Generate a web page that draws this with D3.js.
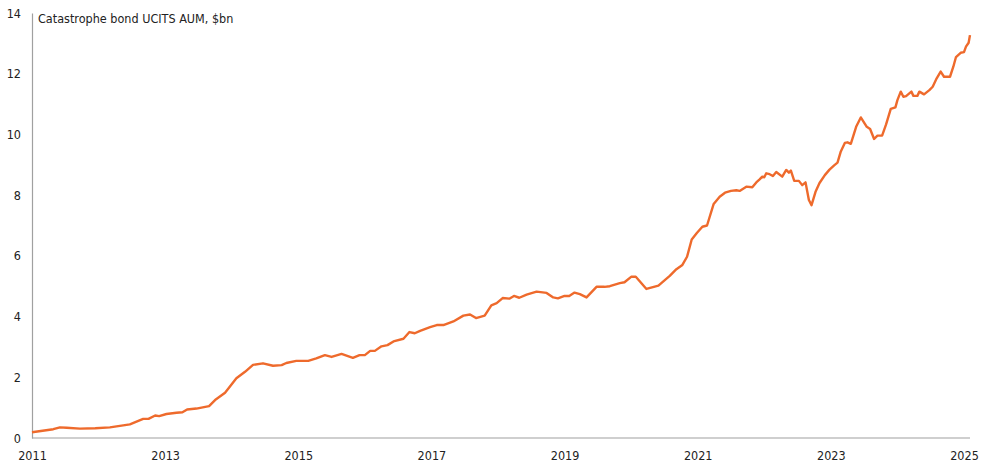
<!DOCTYPE html>
<html>
<head>
<meta charset="utf-8">
<script src="https://cdn.jsdelivr.net/npm/d3@7"></script>
<style>
html,body{margin:0;padding:0;background:#fff;}
svg text{font-family:Tahoma,"DejaVu Sans Condensed","DejaVu Sans",sans-serif;font-size:12.5px;fill:#222;}
</style>
</head>
<body>
<svg id="chart" width="982" height="469"></svg>
<script>
const title = "Catastrophe bond UCITS AUM, $bn";
const xTickYears = [2011, 2013, 2015, 2017, 2019, 2021, 2023, 2025];
const yTicks = [0, 2, 4, 6, 8, 10, 12, 14];
// decimal-year dates
const dates = [
2011.00,2011.32,2011.42,2011.52,2011.72,2011.95,2012.17,2012.47,2012.67,2012.75,
2012.85,2012.91,2013.02,2013.17,2013.26,2013.33,2013.47,2013.66,2013.75,2013.90,
2014.07,2014.20,2014.32,2014.47,2014.62,2014.75,2014.82,2014.97,2015.15,2015.27,
2015.40,2015.50,2015.65,2015.82,2015.92,2016.00,2016.08,2016.15,2016.25,2016.34,
2016.43,2016.58,2016.67,2016.75,2016.83,2016.98,2017.08,2017.18,2017.33,2017.48,
2017.58,2017.67,2017.80,2017.90,2017.98,2018.07,2018.17,2018.24,2018.32,2018.43,
2018.58,2018.73,2018.83,2018.90,2019.00,2019.07,2019.15,2019.23,2019.33,2019.48,
2019.60,2019.68,2019.83,2019.90,2020.00,2020.07,2020.23,2020.41,2020.58,2020.68,
2020.77,2020.84,2020.91,2020.99,2021.07,2021.14,2021.24,2021.33,2021.41,2021.50,
2021.58,2021.63,2021.73,2021.82,2021.88,2021.93,2021.97,2022.00,2022.03,2022.08,
2022.13,2022.18,2022.27,2022.33,2022.37,2022.40,2022.45,2022.52,2022.57,2022.62,
2022.67,2022.71,2022.77,2022.83,2022.91,2022.98,2023.05,2023.10,2023.15,2023.21,
2023.25,2023.30,2023.38,2023.45,2023.54,2023.59,2023.65,2023.70,2023.77,2023.83,
2023.90,2023.97,2024.00,2024.05,2024.09,2024.13,2024.21,2024.24,2024.30,2024.33,
2024.40,2024.48,2024.53,2024.59,2024.65,2024.70,2024.79,2024.84,2024.88,2024.95,
2025.00,2025.03,2025.07,2025.09
];
const aum = [
0.19,0.29,0.35,0.34,0.31,0.32,0.35,0.45,0.63,0.63,
0.74,0.72,0.79,0.83,0.85,0.94,0.97,1.05,1.25,1.49,
1.97,2.18,2.41,2.46,2.38,2.40,2.47,2.54,2.54,2.62,
2.73,2.67,2.77,2.64,2.73,2.73,2.87,2.87,3.02,3.06,
3.18,3.27,3.49,3.45,3.53,3.65,3.72,3.72,3.84,4.03,
4.07,3.95,4.03,4.37,4.44,4.61,4.59,4.68,4.62,4.72,
4.82,4.78,4.63,4.60,4.68,4.68,4.79,4.74,4.63,4.98,
4.98,5.00,5.10,5.13,5.31,5.31,4.91,5.02,5.34,5.56,
5.70,5.97,6.54,6.76,6.96,7.00,7.71,7.95,8.08,8.14,
8.16,8.14,8.28,8.26,8.42,8.52,8.61,8.59,8.72,8.69,
8.63,8.76,8.61,8.83,8.74,8.81,8.47,8.47,8.33,8.42,
7.84,7.67,8.11,8.40,8.66,8.84,8.98,9.07,9.44,9.72,
9.74,9.69,10.25,10.56,10.25,10.18,9.85,9.96,9.96,10.33,
10.84,10.89,11.13,11.41,11.24,11.26,11.41,11.27,11.27,11.41,
11.32,11.46,11.57,11.85,12.07,11.90,11.90,12.23,12.55,12.69,
12.71,12.89,13.02,13.27
];

const svg = d3.select("#chart");
const mLeft = 32, mRight = 970, mTop = 13, mBottom = 438;

const x = d3.scaleLinear().domain([2011, 2025]).range([mLeft, mLeft + 66.57 * 14]);
const y = d3.scaleLinear().domain([0, 14]).range([mBottom, mTop]);

// y axis
const yAxis = d3.axisLeft(y).tickValues(yTicks).tickSize(0).tickPadding(11).tickFormat(d3.format("d"));
const gy = svg.append("g").attr("transform", `translate(${mLeft},0)`).call(yAxis);
gy.select(".domain").attr("stroke", "#a0a0a0").attr("stroke-width", 1.2);
gy.selectAll("text").style("font-size", "12.5px");

// x axis
const xAxis = d3.axisBottom(x).tickValues(xTickYears).tickSize(0).tickPadding(13).tickFormat(d3.format("d"));
const gx = svg.append("g").attr("transform", `translate(0,${mBottom})`).call(xAxis);
gx.select(".domain").attr("d", `M${mLeft},0H${mRight}`).attr("stroke", "#a0a0a0").attr("stroke-width", 1.2);
gx.selectAll("text").style("font-size", "12.5px");

// title
svg.append("text").attr("x", mLeft + 6).attr("y", 23).text(title);

// line
const data = dates.map((d, i) => ({t: d, v: aum[i]}));
const line = d3.line().x(d => x(d.t)).y(d => y(d.v));
svg.append("path").datum(data)
  .attr("fill", "none")
  .attr("stroke", "#EE6A2C")
  .attr("stroke-width", 2.4)
  .attr("stroke-linejoin", "round")
  .attr("d", line);
</script>
</body>
</html>
